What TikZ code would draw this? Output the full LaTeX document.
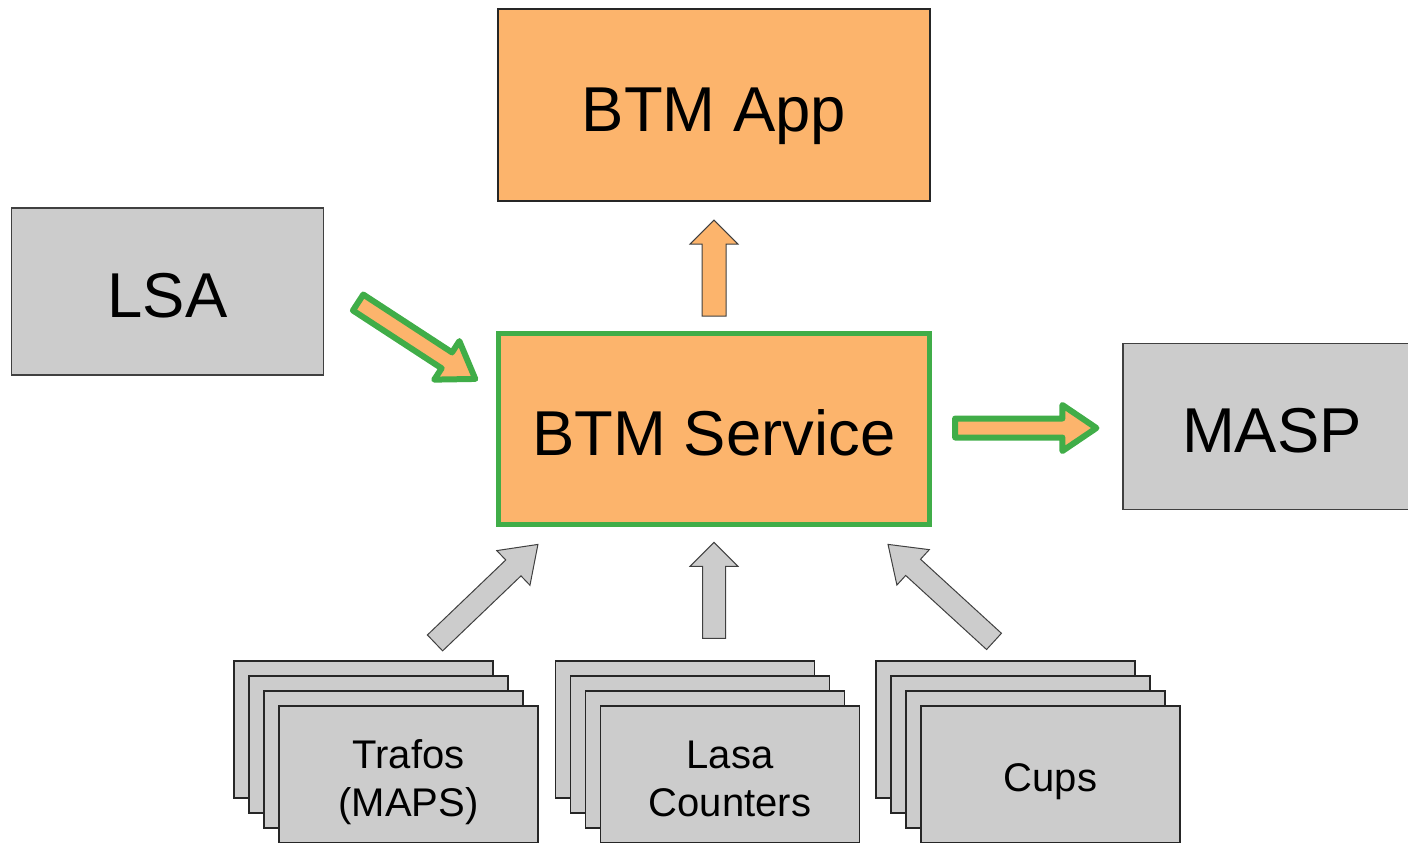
\documentclass[tikz,border=0pt]{standalone}
\usepackage{fontspec}
\setmainfont{Liberation Sans}
\usetikzlibrary{calc}

\definecolor{boxorange}{RGB}{252,180,108}
\definecolor{boxgray}{RGB}{204,204,204}
\definecolor{boxgreen}{RGB}{64,173,72}

% fat block arrow: style, tail, tip, shaft half width, head half width, head length
\newcommand{\blockarrow}[6]{%
  \draw[#1] let \p1=(#2), \p2=(#3),
    \n1={atan2(\y2-\y1,\x2-\x1)}, \n2={veclen(\x2-\x1,\y2-\y1)} in
    [shift={(\p1)}, rotate=\n1]
    (0pt,-#4) -- (\n2-#6,-#4) -- (\n2-#6,-#5) -- (\n2,0pt)
    -- (\n2-#6,#5) -- (\n2-#6,#4) -- (0pt,#4) -- cycle;}

\begin{document}
\begin{tikzpicture}[x=0.5pt,y=-0.5pt,
    bigtext/.style={font=\fontsize{31.7}{38}\selectfont,
      text height=26pt, text depth=0pt, inner sep=0pt},
    appbox/.style={bigtext, draw=black!85, line width=0.6pt, fill=boxorange,
      minimum width=216pt, minimum height=96pt},
    srvbox/.style={bigtext, draw=boxgreen, line width=2.6pt, fill=boxorange,
      minimum width=215.5pt, minimum height=95.75pt},
    extbox/.style={bigtext, draw=black!75, line width=0.6pt, fill=boxgray,
      minimum width=156pt, minimum height=83.5pt},
    card/.style={draw=black!85, line width=0.6pt, fill=boxgray,
      minimum width=129.5pt, minimum height=68.5pt, inner sep=0pt},
    cardtext/.style 2 args={label={[align=center, yshift=#2,
      font=\fontsize{20}{24}\selectfont]center:#1}},
    greenarrow/.style={fill=boxorange, draw=boxgreen, line width=3pt, line join=round},
    orangearrow/.style={fill=boxorange, draw=black!75, line width=0.5pt},
    grayarrow/.style={fill=boxgray, draw=black!75, line width=0.5pt}]
  \useasboundingbox (0,0) rectangle (1408,842);

  % main boxes
  \node[appbox] (app) at (714,105) {BTM App};
  \node[extbox] (lsa) at (167.5,291.5) {LSA};
  \node[srvbox] (svc) at (714,429) {BTM Service};
  \node[extbox, minimum width=149pt, minimum height=83pt] (masp) at (1272,426.5) {MASP};

  % source stacks
  \node[card] (trafos1) at (363.5,729.5) {};
  \node[card] (trafos2) at (378.5,744.5) {};
  \node[card] (trafos3) at (393.5,759.5) {};
  \node[card, cardtext={Trafos\\(MAPS)}{-3.75pt}] (trafos) at (408.5,774.5) {};

  \node[card] (lasa1) at (685,729.5) {};
  \node[card] (lasa2) at (700,744.5) {};
  \node[card] (lasa3) at (715,759.5) {};
  \node[card, cardtext={Lasa\\Counters}{-2.25pt}] (lasa) at (730,774.5) {};

  \node[card] (cups1) at (1005.5,729.5) {};
  \node[card] (cups2) at (1020.5,744.5) {};
  \node[card] (cups3) at (1035.5,759.5) {};
  \node[card, cardtext={Cups}{-3.75pt}] (cups) at (1050.5,774.5) {};

  % data flow
  \blockarrow{greenarrow}{[shift={(34,11)}]lsa.east}{[shift={(-20.5,-50)}]svc.west}{4.75pt}{11.5pt}{17pt}
  \blockarrow{greenarrow}{[shift={(23,-1)}]svc.east}{[shift={(-26,1.5)}]masp.west}{4.75pt}{11.5pt}{17pt}
  \blockarrow{orangearrow}{[shift={(0,-14.5)}]svc.north}{[shift={(0,18.5)}]app.south}{6pt}{12pt}{12pt}

  \blockarrow{grayarrow}{[shift={(71.5,-17.5)}]trafos1.north}{[shift={(-176,17)}]svc.south}{5.5pt}{12pt}{17pt}
  \blockarrow{grayarrow}{[shift={(29,-22)}]lasa1.north}{[shift={(0,15)}]svc.south}{5.75pt}{12pt}{12pt}
  \blockarrow{grayarrow}{[shift={(-11.5,-19)}]cups1.north}{[shift={(174,17)}]svc.south}{5.5pt}{12pt}{17pt}
\end{tikzpicture}
\end{document}
